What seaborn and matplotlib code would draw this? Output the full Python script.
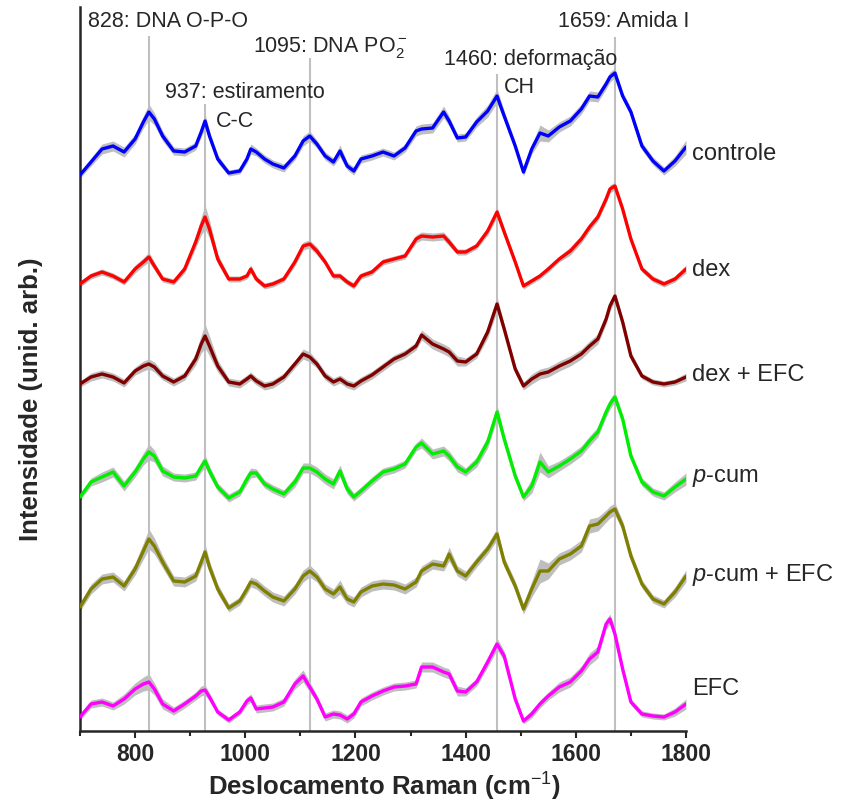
import pandas as pd
import numpy as np
import matplotlib
matplotlib.use('Agg')
import matplotlib.pyplot as plt
from matplotlib.ticker import MultipleLocator
import seaborn as sns

# Raman shift grid (cm-1)
shift = [700, 720, 740, 760, 780, 800, 815, 825, 835, 850,
         870, 890, 910, 920, 927, 935, 950, 970, 990, 1003,
         1010, 1020, 1035, 1050, 1070, 1090, 1105, 1117, 1130, 1145,
         1160, 1172, 1185, 1197, 1210, 1230, 1250, 1270, 1290, 1310,
         1320, 1340, 1360, 1370, 1385, 1400, 1420, 1440, 1457, 1470,
         1490, 1505, 1520, 1535, 1550, 1570, 1590, 1610, 1625, 1640,
         1655, 1662, 1671, 1685, 1700, 1720, 1740, 1760, 1780, 1800]

# Mean spectra (already stacked, arb. units)
controle = [556, 569, 582, 585, 579, 592, 609, 619, 612, 595,
            580, 579, 585, 599, 610, 595, 572, 558, 560, 572,
            582, 579, 572, 567, 563, 575, 590, 595, 587, 575,
            569, 580, 565, 560, 572, 575, 579, 575, 583, 600,
            602, 603, 619, 610, 593, 594, 609, 620, 635, 615,
            585, 559, 582, 598, 595, 604, 610, 622, 635, 634,
            647, 654, 658, 635, 619, 585, 570, 560, 570, 584]
dex = [447, 455, 459, 455, 449, 462, 469, 474, 465, 452,
       449, 462, 489, 505, 514, 502, 472, 452, 452, 455,
       462, 452, 445, 447, 452, 469, 485, 487, 480, 469,
       455, 455, 449, 445, 455, 459, 469, 472, 475, 492,
       495, 494, 495, 489, 479, 479, 485, 500, 519, 499,
       469, 445, 450, 455, 462, 472, 480, 492, 504, 514,
       532, 542, 545, 522, 492, 462, 452, 447, 452, 462]
dex_efc = [347, 354, 357, 354, 348, 360, 365, 367, 364, 355,
           349, 355, 372, 387, 395, 385, 365, 349, 347, 352,
           355, 350, 345, 347, 354, 367, 377, 374, 367, 355,
           349, 352, 347, 345, 350, 356, 364, 372, 377, 385,
           396, 387, 382, 379, 370, 369, 377, 399, 427, 402,
           362, 345, 352, 357, 359, 365, 370, 377, 385, 392,
           412, 425, 435, 409, 375, 355, 349, 347, 349, 354]
pcum = [234, 249, 254, 259, 245, 259, 272, 279, 275, 260,
        254, 253, 255, 264, 270, 260, 244, 233, 239, 252,
        258, 258, 247, 242, 237, 249, 263, 263, 259, 252,
        247, 260, 242, 234, 240, 250, 259, 262, 267, 284,
        288, 277, 280, 275, 264, 259, 269, 289, 319, 292,
        255, 234, 245, 269, 259, 265, 272, 280, 290, 299,
        319, 327, 334, 312, 275, 249, 239, 235, 244, 252]
pcum_efc = [124, 142, 152, 154, 145, 162, 180, 192, 185, 169,
            150, 149, 155, 169, 179, 164, 142, 123, 130, 142,
            149, 147, 140, 134, 130, 142, 155, 160, 154, 142,
            137, 144, 132, 129, 139, 145, 147, 146, 142, 149,
            160, 167, 165, 177, 160, 155, 169, 182, 197, 169,
            145, 122, 142, 160, 160, 172, 177, 185, 205, 207,
            215, 219, 222, 205, 175, 147, 132, 127, 139, 155]
efc = [14, 27, 29, 25, 32, 42, 47, 49, 42, 27,
       20, 27, 35, 40, 41, 34, 19, 11, 19, 30,
       33, 22, 23, 24, 29, 47, 55, 44, 32, 14,
       17, 16, 12, 17, 29, 35, 40, 44, 45, 47,
       64, 64, 59, 57, 40, 39, 49, 69, 87, 75,
       32, 10, 17, 27, 35, 44, 49, 60, 72, 79,
       107, 112, 97, 62, 29, 17, 15, 14, 19, 27]

# Standard deviation bands
controle_sd = [3, 4, 5, 5, 5, 5, 6, 8, 6, 5,
               4, 4, 4, 5, 7, 5, 4, 3, 3, 4,
               5, 4, 4, 4, 4, 4, 5, 5, 4, 4,
               4, 6, 4, 4, 4, 4, 4, 4, 4, 5,
               5, 5, 6, 5, 4, 4, 5, 6, 7, 5,
               4, 4, 5, 8, 6, 5, 5, 5, 5, 5,
               5, 5, 5, 4, 4, 4, 4, 4, 5, 7]
dex_sd = [3, 3, 3, 3, 3, 4, 4, 5, 4, 3,
          3, 4, 6, 9, 12, 9, 5, 3, 3, 3,
          4, 3, 3, 3, 3, 4, 4, 4, 4, 3,
          3, 3, 3, 3, 3, 3, 3, 3, 3, 4,
          4, 4, 4, 4, 3, 3, 3, 4, 5, 4,
          3, 3, 3, 3, 3, 3, 4, 4, 4, 4,
          4, 4, 4, 3, 3, 3, 3, 3, 3, 4]
dex_efc_sd = [3, 4, 4, 4, 4, 4, 5, 5, 5, 4,
              4, 4, 6, 9, 12, 10, 6, 4, 4, 4,
              4, 4, 4, 4, 4, 4, 5, 5, 4, 4,
              4, 4, 4, 4, 4, 4, 4, 4, 4, 4,
              5, 5, 5, 5, 5, 4, 4, 6, 7, 5,
              4, 4, 5, 5, 5, 5, 5, 5, 5, 5,
              5, 5, 5, 4, 4, 3, 3, 3, 3, 4]
pcum_sd = [3, 4, 5, 5, 5, 5, 6, 8, 6, 5,
           4, 4, 4, 5, 6, 5, 4, 4, 4, 5,
           5, 4, 4, 4, 4, 5, 5, 5, 5, 5,
           5, 6, 5, 4, 4, 4, 4, 4, 4, 4,
           5, 5, 5, 5, 5, 4, 5, 6, 7, 5,
           4, 4, 7, 10, 6, 5, 5, 5, 5, 5,
           5, 5, 5, 4, 4, 4, 4, 4, 5, 6]
pcum_efc_sd = [4, 5, 5, 5, 5, 6, 8, 10, 8, 6,
               5, 5, 5, 6, 8, 6, 5, 4, 4, 5,
               5, 5, 5, 5, 5, 5, 6, 6, 5, 5,
               5, 7, 5, 5, 5, 5, 5, 5, 5, 5,
               5, 5, 5, 7, 5, 5, 5, 5, 6, 5,
               5, 5, 8, 12, 8, 6, 6, 6, 7, 7,
               6, 6, 6, 5, 5, 4, 4, 4, 5, 6]
efc_sd = [3, 4, 4, 4, 5, 6, 7, 8, 6, 5,
          4, 4, 4, 5, 5, 4, 3, 3, 3, 4,
          4, 4, 4, 4, 4, 5, 6, 5, 4, 4,
          4, 4, 4, 4, 4, 4, 4, 4, 4, 4,
          5, 5, 5, 5, 5, 4, 4, 5, 6, 5,
          4, 3, 4, 4, 4, 5, 5, 5, 6, 6,
          5, 5, 5, 4, 3, 3, 3, 3, 4, 5]

groups = ['controle', 'dex', 'dex + EFC', '$\\it{p}$-cum', '$\\it{p}$-cum + EFC', 'EFC']
colors = ['#0000FF', '#FF0000', '#800000', '#00EE00', '#808000', '#FF00FF']
label_y = [578, 462, 357, 254, 157, 43]

# Marked bands
peak_pos = [825, 927, 1117, 1457, 1671]
peak_top = [695, 627, 673, 657, 694]
peak_labels = [('828: DNA O-P-O', 714, 710),
               ('937: estiramento', 854, 639),
               ('C-C', 947, 610),
               ('1095: DNA PO$_2^-$', 1014, 684),
               ('1460: deformação', 1360, 672),
               ('CH', 1469, 644),
               ('1659: Amida I', 1567, 710)]

means = [controle, dex, dex_efc, pcum, pcum_efc, efc]
sds = [controle_sd, dex_sd, dex_efc_sd, pcum_sd, pcum_efc_sd, efc_sd]

df = pd.concat([pd.DataFrame({'shift': shift, 'intensity': m, 'sd': s, 'group': g})
                for m, s, g in zip(means, sds, groups)], ignore_index=True)

sns.set_style('ticks')
plt.rcParams['font.family'] = ['Liberation Sans', 'DejaVu Sans']
plt.rcParams['mathtext.fontset'] = 'custom'
plt.rcParams['mathtext.rm'] = 'Liberation Sans'
plt.rcParams['mathtext.it'] = 'Liberation Sans:italic'
plt.rcParams['mathtext.bf'] = 'Liberation Sans:bold'
plt.rcParams['lines.solid_joinstyle'] = 'round'

fig = plt.figure(figsize=(8.42, 8.03), dpi=100)
ax = fig.add_axes([80 / 842, 71 / 803, 606 / 842, 724 / 803])

# reference lines
ax.vlines(peak_pos, 0, peak_top, color='#C0C0C0', lw=1.5, zorder=1)

# sd bands
for g in groups:
    d = df[df['group'] == g]
    ax.fill_between(d['shift'], d['intensity'] - d['sd'], d['intensity'] + d['sd'],
                    color='#BEBEBE', lw=0, zorder=2)

sns.lineplot(data=df, x='shift', y='intensity', hue='group', hue_order=groups,
             palette=colors, estimator=None, lw=2.4, legend=False, ax=ax, zorder=3)

for g, yl in zip(groups, label_y):
    ax.text(1811, yl, g, fontsize=17, va='center', ha='left', clip_on=False)

for txt, tx, ty in peak_labels:
    ax.text(tx, ty, txt, fontsize=15.5, va='center', ha='left')

ax.set_xlim(700, 1800)
ax.set_ylim(0, 724)
ax.xaxis.set_major_locator(MultipleLocator(200))
ax.xaxis.set_minor_locator(MultipleLocator(100))
ax.set_yticks([])
ax.tick_params(axis='x', which='major', direction='out', length=5, width=1.5,
               labelsize=16.5, pad=3)
ax.tick_params(axis='x', which='minor', direction='out', length=3.5, width=1.5)
ax.xaxis.set_major_formatter(matplotlib.ticker.FuncFormatter(lambda v, p: f'{int(v)}' if v > 700 else ''))
for lab in ax.get_xticklabels():
    lab.set_fontweight('bold')

sns.despine(ax=ax)
ax.spines['left'].set_linewidth(1.8)
ax.spines['bottom'].set_linewidth(1.8)

ax.set_xlabel('Deslocamento Raman (cm$^{-1}$)', fontsize=18.5, fontweight='bold')
ax.set_ylabel('Intensidade (unid. arb.)', fontsize=18.5, fontweight='bold')
ax.xaxis.set_label_coords(0.503, -0.053)
ax.yaxis.set_label_coords(-0.061, 0.46)

fig.savefig('out.png', dpi=100)
